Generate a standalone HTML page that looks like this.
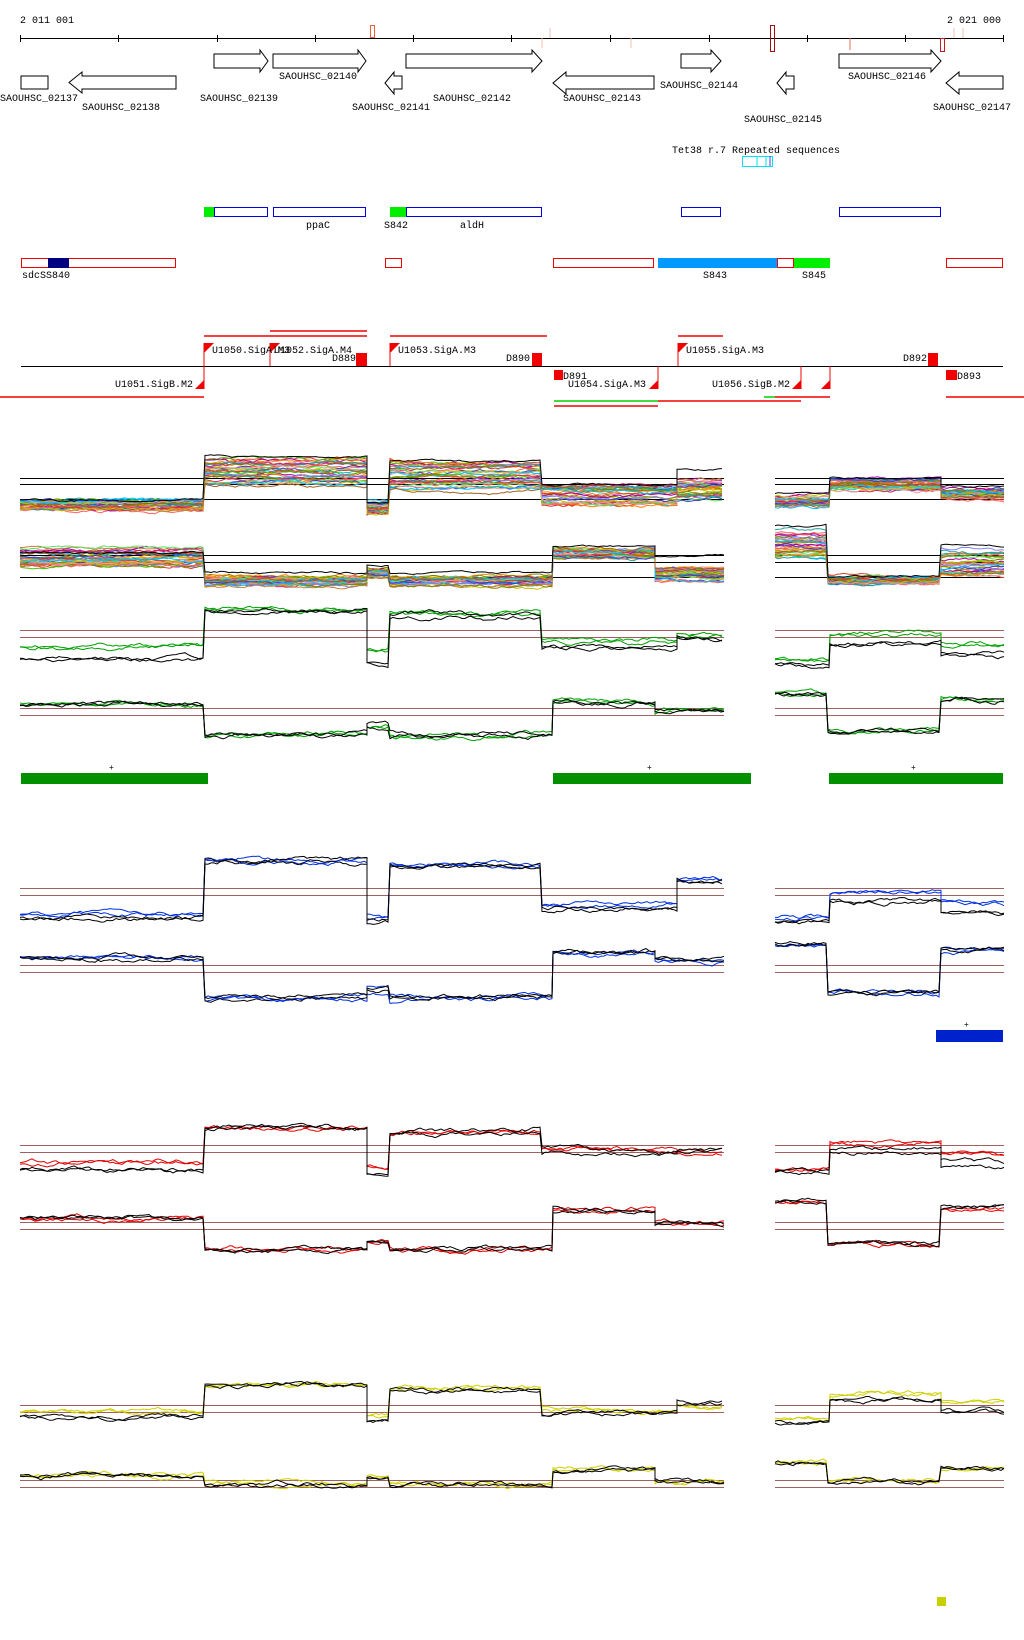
<!DOCTYPE html>
<html><head><meta charset="utf-8"><style>
html,body{margin:0;padding:0;background:#fff;}
svg{display:block}
text{font-family:"Liberation Mono",monospace;font-size:10px;fill:#000}
</style></head><body>
<svg id="s" width="1024" height="1640" viewBox="0 0 1024 1640" xmlns="http://www.w3.org/2000/svg">
<text x="20" y="23">2 011 001</text>
<text x="947" y="23">2 021 000</text>
<line x1="20" y1="38.5" x2="1004" y2="38.5" stroke="#000"/>
<g stroke="#000">
<line x1="20.5" y1="35" x2="20.5" y2="42"/><line x1="118.5" y1="35" x2="118.5" y2="42"/><line x1="217.5" y1="35" x2="217.5" y2="42"/><line x1="315.5" y1="35" x2="315.5" y2="42"/><line x1="413.5" y1="35" x2="413.5" y2="42"/><line x1="511.5" y1="35" x2="511.5" y2="42"/><line x1="610.5" y1="35" x2="610.5" y2="42"/><line x1="709.5" y1="35" x2="709.5" y2="42"/><line x1="807.5" y1="35" x2="807.5" y2="42"/><line x1="905.5" y1="35" x2="905.5" y2="42"/><line x1="1003.5" y1="35" x2="1003.5" y2="42"/>
</g>
<rect x="370.5" y="25.5" width="4" height="12" fill="none" stroke="#e86040"/>
<rect x="770.5" y="25.5" width="4" height="26" fill="none" stroke="#a01010"/>
<rect x="940.5" y="38.5" width="4" height="13" fill="none" stroke="#c02020"/>
<line x1="542" y1="38" x2="542" y2="48" stroke="#f0c0b0"/><line x1="550" y1="28" x2="550" y2="38" stroke="#f0c0b0"/>
<line x1="631" y1="38" x2="631" y2="48" stroke="#f0c0b0"/><line x1="850" y1="38" x2="850" y2="50" stroke="#e87050"/>
<line x1="954" y1="28" x2="954" y2="38" stroke="#f0c0b0"/><line x1="963" y1="28" x2="963" y2="38" stroke="#f0c0b0"/>
<g fill="#fff" stroke="#000">
<polygon points="21,76 48,76 48,89 21,89"/>
<polygon points="176,76 82,76 82,72 69,82.5 82,93 82,89 176,89"/>
<polygon points="214,54 260,54 260,50 268,61 260,72 260,68 214,68"/>
<polygon points="273,54 358,54 358,50 366,61 358,72 358,68 273,68"/>
<polygon points="402,76 394,76 394,72 385,83 394,94 394,89 402,89"/>
<polygon points="406,54 532,54 532,50 542,61 532,72 532,68 406,68"/>
<polygon points="654,76 566,76 566,72 553,83 566,94 566,89 654,89"/>
<polygon points="681,54 711,54 711,50 721,61 711,72 711,68 681,68"/>
<polygon points="794,76 786,76 786,72 777,83 786,94 786,89 794,89"/>
<polygon points="839,54 931,54 931,50 941,61 931,72 931,68 839,68"/>
<polygon points="1003,76 959,76 959,72 946,83 959,94 959,89 1003,89"/>
</g>
<text x="0" y="101">SAOUHSC_02137</text>
<text x="82" y="110">SAOUHSC_02138</text>
<text x="200" y="101">SAOUHSC_02139</text>
<text x="279" y="79">SAOUHSC_02140</text>
<text x="352" y="110">SAOUHSC_02141</text>
<text x="433" y="101">SAOUHSC_02142</text>
<text x="563" y="101">SAOUHSC_02143</text>
<text x="660" y="88">SAOUHSC_02144</text>
<text x="744" y="122">SAOUHSC_02145</text>
<text x="848" y="79">SAOUHSC_02146</text>
<text x="933" y="110">SAOUHSC_02147</text>
<text x="672" y="153">Tet38 r.7 Repeated sequences</text>
<rect x="742.5" y="156.5" width="30" height="10" fill="none" stroke="#00e0f0"/>
<line x1="757" y1="156" x2="757" y2="166" stroke="#00e0f0"/><line x1="766" y1="156" x2="766" y2="166" stroke="#00e0f0"/><line x1="770" y1="156" x2="770" y2="166" stroke="#4040ff"/>
<rect x="204" y="207" width="10" height="10" fill="#00ee00"/>
<rect x="390" y="207" width="16" height="10" fill="#00ee00"/>
<g fill="none" stroke="#0000e0">
<rect x="214.5" y="207.5" width="53" height="9"/><rect x="273.5" y="207.5" width="92" height="9"/>
<rect x="406.5" y="207.5" width="135" height="9"/><rect x="681.5" y="207.5" width="39" height="9"/>
<rect x="839.5" y="207.5" width="101" height="9"/>
</g>
<text x="306" y="228">ppaC</text><text x="384" y="228">S842</text><text x="460" y="228">aldH</text>
<g fill="none" stroke="#f00000">
<rect x="21.5" y="258.5" width="154" height="9"/><rect x="385.5" y="258.5" width="16" height="9"/>
<rect x="553.5" y="258.5" width="100" height="9"/><rect x="777.5" y="258.5" width="16" height="9"/>
<rect x="946.5" y="258.5" width="56" height="9"/>
</g>
<rect x="48" y="258" width="21" height="10" fill="#000080"/>
<rect x="658" y="258" width="119" height="10" fill="#0099ff"/>
<rect x="794" y="258" width="36" height="10" fill="#00ee00"/>
<text x="22" y="278">sdcSS840</text><text x="703" y="278">S843</text><text x="802" y="278">S845</text>
<line x1="21" y1="366.5" x2="1003" y2="366.5" stroke="#000"/>
<g stroke="#f00000" stroke-width="1.5">
<line x1="204" y1="336" x2="367" y2="336"/><line x1="270" y1="331" x2="367" y2="331"/>
<line x1="390" y1="336" x2="547" y2="336"/><line x1="678" y1="336" x2="723" y2="336"/>
<line x1="0" y1="397" x2="204" y2="397"/><line x1="946" y1="397" x2="1024" y2="397"/>
<line x1="775" y1="397" x2="830" y2="397"/><line x1="658" y1="401" x2="801" y2="401"/>
<line x1="554" y1="406" x2="658" y2="406"/>
</g>
<line x1="764" y1="397" x2="775" y2="397" stroke="#00d000" stroke-width="1.5"/>
<line x1="554" y1="401" x2="658" y2="401" stroke="#00d000" stroke-width="1.5"/>
<g fill="#f00000">
<polygon points="204,343 214,343 204,353"/><polygon points="270,343 280,343 270,353"/>
<polygon points="390,343 400,343 390,353"/><polygon points="678,343 688,343 678,353"/>
<polygon points="204,389 195,389 204,380"/><polygon points="658,389 649,389 658,380"/>
<polygon points="830,389 821,389 830,380"/><polygon points="801,389 792,389 801,380"/>
<rect x="356" y="353" width="11" height="13"/><rect x="532" y="353" width="10" height="13"/>
<rect x="554" y="370" width="9" height="10"/><rect x="928" y="353" width="10" height="13"/>
<rect x="946" y="370" width="11" height="10"/>
</g>
<g stroke="#f00000"><line x1="204" y1="343" x2="204" y2="389"/><line x1="270" y1="343" x2="270" y2="366"/><line x1="390" y1="343" x2="390" y2="366"/><line x1="678" y1="343" x2="678" y2="366"/><line x1="658" y1="366" x2="658" y2="389"/><line x1="830" y1="366" x2="830" y2="389"/><line x1="801" y1="366" x2="801" y2="389"/></g>
<text x="212" y="353">U1050.SigA.M3</text><text x="274" y="353">U1052.SigA.M4</text>
<text x="332" y="361">D889</text><text x="398" y="353">U1053.SigA.M3</text>
<text x="506" y="361">D890</text><text x="115" y="387">U1051.SigB.M2</text>
<text x="563" y="379">D891</text><text x="568" y="387">U1054.SigA.M3</text>
<text x="686" y="353">U1055.SigA.M3</text><text x="712" y="387">U1056.SigB.M2</text>
<text x="903" y="361">D892</text><text x="957" y="379">D893</text>
<rect x="21" y="773" width="187" height="11" fill="#009000"/>
<rect x="553" y="773" width="198" height="11" fill="#009000"/>
<rect x="829" y="773" width="174" height="11" fill="#009000"/>
<text x="109" y="770" style="font-size:8px">+</text><text x="647" y="770" style="font-size:8px">+</text><text x="911" y="770" style="font-size:8px">+</text>
<rect x="936" y="1030" width="67" height="12" fill="#0022cc"/>
<text x="964" y="1027" style="font-size:8px">+</text>
<rect x="937" y="1597" width="9" height="9" fill="#c8d000"/>
<g id="g"></g>
</svg>
<script>
var seed=7;function r(){seed=(seed*16807)%2147483647;return seed/2147483647;}
var g=document.getElementById('g');var NS='http://www.w3.org/2000/svg';
function ln(x1,x2,y,c){var l=document.createElementNS(NS,'line');l.setAttribute('x1',x1);l.setAttribute('x2',x2);l.setAttribute('y1',y+.5);l.setAttribute('y2',y+.5);l.setAttribute('stroke',c);g.appendChild(l);}
function path(segs,off,amp,c,w){var d='',v=0,v2=0;for(var k=0;k<segs.length;k++){var s=segs[k];for(var x=s[0];x<=s[1];x+=3){v=v*0.85+(r()-0.5)*amp*0.7;v2=v2*0.97+(r()-0.5)*amp*0.25;var y=s[2]+off+v+v2;d+=(d?'L':'M')+x+','+y.toFixed(1);}}var p=document.createElementNS(NS,'path');p.setAttribute('d',d);p.setAttribute('fill','none');p.setAttribute('stroke',c);p.setAttribute('stroke-width',w||1);g.appendChild(p);}
function upL(H,L,L2,M){return [[20,205,L],[205,367,H],[367,390,L+3],[390,542,H+4],[542,677,L2],[677,724,M]];}
function upR(L,M,L2){return [[775,830,L],[830,941,M],[941,1004,L2]];}
function dnL(M,L,H,M2){return [[20,205,M],[205,367,L],[367,390,L-8],[390,553,L],[553,655,H],[655,724,M2]];}
function dnR(H,L,H2){return [[775,828,H],[828,941,L],[941,1004,H2]];}
var cols=['#e04020','#40c000','#a000a0','#ff8000','#8080ff','#c08040','#20a0a0','#d02060','#808000','#ff6060','#60e060','#4040c0','#c0c000','#e0a0a0','#00c0ff','#a06020'];
[478,484,499].forEach(function(y){ln(20,724,y,'#000');ln(775,1004,y,'#000');});
[555,562,577].forEach(function(y){ln(20,724,y,'#000');ln(775,1004,y,'#000');});
for(var i=0;i<32;i++){var c=cols[i%cols.length];
path(upL(458+i*0.9,500+r()*10,485+r()*20,478+r()*22),0,3,c);
path(upR(495+r()*12,478+r()*12,488+r()*10),0,3,c);
path(dnL(548+r()*18,576+r()*10,548+r()*12,568+r()*14),0,3,c);
path(dnR(528+r()*30,577+r()*6,550+r()*25),0,3,c);}
path(upL(457,500,485,470),0,2,'#000');path(upR(493,478,486),0,2,'#000');
path(dnL(552,572,546,556),0,2,'#000');path(dnR(525,577,546),0,2,'#000');
function fam(c,l1,l2,u,d){[l1,l1+7].forEach(function(y){ln(20,724,y,'#a06060');ln(775,1004,y,'#a06060');});
[l2,l2+7].forEach(function(y){ln(20,724,y,'#a06060');ln(775,1004,y,'#a06060');});
for(var k=0;k<4;k++){var cc=k<2?c:'#000',dk=k<2?0:1;
path(upL(u[0],u[1]+dk*u[5],u[2]+dk*4,u[3]),(r()-0.5)*2,4,cc);path(upR(u[4]+dk*4,u[4]-25+dk*8,u[4]-15+dk*10),(r()-0.5)*2,4,cc);
path(dnL(d[0],d[1],d[2],d[3]),(r()-0.5)*2,4,cc);path(dnR(d[2]-8,d[1]-4,d[2]-2),(r()-0.5)*2,4,cc);}}
fam('#00a000',630,708,[611,648,643,637,660,12],[704,735,702,710]);
fam('#0030e0',888,965,[861,915,904,880,918,3],[958,998,953,960]);
fam('#e00000',1145,1222,[1128,1163,1148,1150,1168,8],[1219,1250,1211,1224]);
fam('#d0d000',1405,1480,[1385,1412,1410,1405,1418,5],[1476,1485,1470,1482]);
</script>
</body></html>
